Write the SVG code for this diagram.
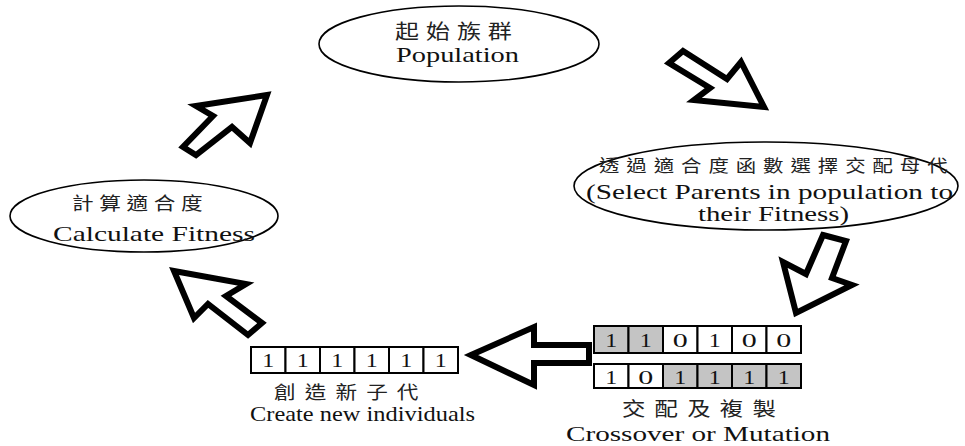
<svg xmlns="http://www.w3.org/2000/svg" width="965" height="446" viewBox="0 0 965 446">
<style>
.ell{fill:#fff;stroke:#000;stroke-width:1.6}
.en{font-family:"Liberation Serif","Times New Roman",serif;font-size:22px;fill:#111}
.zh{font-family:"Noto Sans CJK TC","Noto Sans CJK SC",sans-serif;fill:#222}
.arr{fill:#fff;stroke:#000;stroke-width:6;stroke-linejoin:miter;stroke-miterlimit:10}
.cell{fill:#fff;stroke:#000;stroke-width:2}
.g{fill:#c4c4c4}
.d{font-family:"Liberation Serif","Times New Roman",serif;font-size:19px;fill:#111;text-anchor:middle}
</style>
<rect width="965" height="446" fill="#fff"/>
<g id="connectors">
<polygon class="arr" points="267,95 196,106 213,116 183,147 196,155 232,127 250,143"/>
<polygon class="arr" points="683,51 669,63 710,88 694,100 764,107 741,62 727,79"/>
<polygon class="arr" points="823,235 846,241 832,278 852,285 796,313 783,262 806,274"/>
<polygon class="arr" points="471,355 534,327 534,345 589,345 589,363 534,363 534,385"/>
<polygon class="arr" points="174,271 246,284 226,296 262,323 248,335 208,304 194,318"/>
</g>
<g id="population">
<ellipse class="ell" cx="459" cy="44" rx="140" ry="38"/>
<text class="zh" font-size="20" letter-spacing="5.8" transform="translate(395,39) scale(1.2,1)">起始族群</text>
<text class="en" x="396" y="62" textLength="123" lengthAdjust="spacingAndGlyphs">Population</text>
</g>
<g id="select">
<ellipse class="ell" cx="766" cy="186" rx="192" ry="44"/>
<text class="zh" font-size="17" letter-spacing="5.8" transform="translate(599,172) scale(1.2,1)">透過適合度函數選擇交配母代</text>
<text class="en" x="586" y="198.5" textLength="367" lengthAdjust="spacingAndGlyphs">(Select Parents in population to</text>
<text class="en" x="698" y="220.5" textLength="151" lengthAdjust="spacingAndGlyphs">their Fitness)</text>
</g>
<g id="fitness">
<ellipse class="ell" cx="144" cy="216" rx="134" ry="36"/>
<text class="zh" font-size="18" letter-spacing="4.7" transform="translate(72,210) scale(1.2,1)">計算適合度</text>
<text class="en" x="53" y="241" textLength="202" lengthAdjust="spacingAndGlyphs">Calculate Fitness</text>
</g>
<g id="crossover">
<rect class="cell g" x="594" y="326" width="34.5" height="27"/>
<rect class="cell g" x="628.5" y="326" width="34.5" height="27"/>
<rect class="cell" x="663" y="326" width="34.5" height="27"/>
<rect class="cell" x="697.5" y="326" width="34.5" height="27"/>
<rect class="cell" x="732" y="326" width="34.5" height="27"/>
<rect class="cell" x="766.5" y="326" width="34.5" height="27"/>
<text class="d" x="611.25" y="347" textLength="12" lengthAdjust="spacingAndGlyphs">1</text>
<text class="d" x="645.75" y="347" textLength="12" lengthAdjust="spacingAndGlyphs">1</text>
<text class="d" x="680.25" y="347" textLength="15" lengthAdjust="spacingAndGlyphs">0</text>
<text class="d" x="714.75" y="347" textLength="12" lengthAdjust="spacingAndGlyphs">1</text>
<text class="d" x="749.25" y="347" textLength="15" lengthAdjust="spacingAndGlyphs">0</text>
<text class="d" x="783.75" y="347" textLength="15" lengthAdjust="spacingAndGlyphs">0</text>
<rect class="cell" x="594" y="364" width="34.5" height="24"/>
<rect class="cell" x="628.5" y="364" width="34.5" height="24"/>
<rect class="cell g" x="663" y="364" width="34.5" height="24"/>
<rect class="cell g" x="697.5" y="364" width="34.5" height="24"/>
<rect class="cell g" x="732" y="364" width="34.5" height="24"/>
<rect class="cell g" x="766.5" y="364" width="34.5" height="24"/>
<text class="d" x="611.25" y="384" textLength="12" lengthAdjust="spacingAndGlyphs">1</text>
<text class="d" x="645.75" y="384" textLength="15" lengthAdjust="spacingAndGlyphs">0</text>
<text class="d" x="680.25" y="384" textLength="12" lengthAdjust="spacingAndGlyphs">1</text>
<text class="d" x="714.75" y="384" textLength="12" lengthAdjust="spacingAndGlyphs">1</text>
<text class="d" x="749.25" y="384" textLength="12" lengthAdjust="spacingAndGlyphs">1</text>
<text class="d" x="783.75" y="384" textLength="12" lengthAdjust="spacingAndGlyphs">1</text>
<text class="zh" font-size="19.5" letter-spacing="7.7" transform="translate(622,416) scale(1.2,1)">交配及複製</text>
<text class="en" x="566" y="441" textLength="264" lengthAdjust="spacingAndGlyphs">Crossover or Mutation</text>
</g>
<g id="newindividuals">
<rect class="cell" x="251" y="347" width="34.5" height="26"/>
<rect class="cell" x="285.5" y="347" width="34.5" height="26"/>
<rect class="cell" x="320" y="347" width="34.5" height="26"/>
<rect class="cell" x="354.5" y="347" width="34.5" height="26"/>
<rect class="cell" x="389" y="347" width="34.5" height="26"/>
<rect class="cell" x="423.5" y="347" width="34.5" height="26"/>
<text class="d" x="268.25" y="367" textLength="12" lengthAdjust="spacingAndGlyphs">1</text>
<text class="d" x="302.75" y="367" textLength="12" lengthAdjust="spacingAndGlyphs">1</text>
<text class="d" x="337.25" y="367" textLength="12" lengthAdjust="spacingAndGlyphs">1</text>
<text class="d" x="371.75" y="367" textLength="12" lengthAdjust="spacingAndGlyphs">1</text>
<text class="d" x="406.25" y="367" textLength="12" lengthAdjust="spacingAndGlyphs">1</text>
<text class="d" x="440.75" y="367" textLength="12" lengthAdjust="spacingAndGlyphs">1</text>
<text class="zh" font-size="18" letter-spacing="7.6" transform="translate(274,398.5) scale(1.2,1)">創造新子代</text>
<text class="en" x="250" y="420.5" textLength="225" lengthAdjust="spacingAndGlyphs">Create new individuals</text>
</g>
</svg>
